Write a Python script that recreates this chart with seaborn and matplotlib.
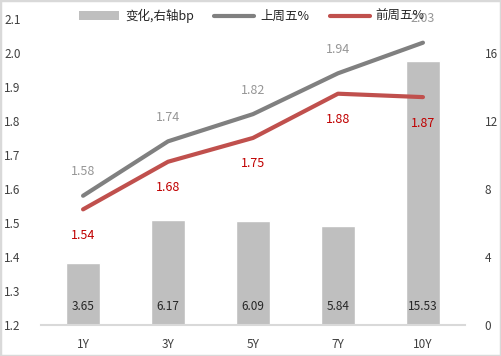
import numpy as np
import pandas as pd
import matplotlib
matplotlib.use("Agg")
import matplotlib.pyplot as plt
from matplotlib.patches import Patch, Rectangle
from matplotlib.lines import Line2D
import seaborn as sns

# dados
tenors = ["1Y", "3Y", "5Y", "7Y", "10Y"]
change_bp = [3.65, 6.17, 6.09, 5.84, 15.53]
last_fri = [1.58, 1.74, 1.82, 1.94, 2.03]
prev_fri = [1.54, 1.68, 1.75, 1.88, 1.87]
left_ticks = [1.2, 1.3, 1.4, 1.5, 1.6, 1.7, 1.8, 1.9, 2.0, 2.1]
right_ticks = [0, 4, 8, 12, 16]

sns.set_theme(style="white")
plt.rcParams["font.family"] = ["Noto Sans CJK SC", "DejaVu Sans"]

c_bar = "#bfbfbf"
c_grey = "#808080"
c_red = "#c0504d"
c_tick = "#404040"

df = pd.DataFrame({
    "pos": np.arange(len(tenors)),
    "tenor": tenors,
    "change": change_bp,
    "last": last_fri,
    "prev": prev_fri,
})

fig = plt.figure(figsize=(5.01, 3.56), dpi=100)
ax = fig.add_axes([0.081, 0.087, 0.848, 0.860])
ax_r = ax.twinx()

# barras no eixo direito
sns.barplot(data=df, x="pos", y="change", ax=ax_r, color=c_bar, width=0.4,
            saturation=1)
ax_r.set_ylim(0, 18)
ax_r.set_yticks(right_ticks)
ax_r.set_ylabel("")
for i, v in enumerate(change_bp):
    ax_r.annotate(f"{v:.2f}", xy=(i, 0), xytext=(0, 19), textcoords="offset pixels",
                  ha="center", va="center", fontsize=8.5, color="#262626")

# linhas no eixo esquerdo
ax.set_zorder(ax_r.get_zorder() + 1)
ax.patch.set_visible(False)
sns.lineplot(data=df, x="pos", y="last", ax=ax, color=c_grey, linewidth=3,
             solid_capstyle="round")
sns.lineplot(data=df, x="pos", y="prev", ax=ax, color=c_red, linewidth=3,
             solid_capstyle="round")
for i, v in enumerate(last_fri):
    ax.annotate(f"{v:.2f}", xy=(i, v), xytext=(0, 24), textcoords="offset pixels",
                ha="center", va="center", fontsize=9, color="#969696")
for i, v in enumerate(prev_fri):
    ax.annotate(f"{v:.2f}", xy=(i, v), xytext=(0, -26), textcoords="offset pixels",
                ha="center", va="center", fontsize=9, color="#c00000")

ax.set_ylim(1.2, 2.1)
ax.set_yticks(left_ticks)
ax.set_yticklabels([f"{t:.1f}" for t in left_ticks])
ax.set_xlim(-0.5, len(tenors) - 0.5)
ax.set_xticks(df["pos"])
ax.set_xticklabels(tenors)
ax.set_xlabel("")
ax.set_ylabel("")

for a in (ax, ax_r):
    for s in a.spines.values():
        s.set_visible(False)
    a.tick_params(length=0, labelsize=8.5, colors=c_tick)
ax.spines["bottom"].set_visible(True)
ax.spines["bottom"].set_color("#d9d9d9")
ax.spines["bottom"].set_linewidth(1.5)
ax.tick_params(axis="y", pad=14)
ax.tick_params(axis="x", pad=9)
ax_r.tick_params(axis="y", pad=14)
for lbl in ax.get_yticklabels():
    lbl.set_horizontalalignment("left")
    lbl.set_x(-0.086)
ax.tick_params(axis="y", pad=0)

# legenda
handles = [
    Patch(facecolor=c_bar, edgecolor="none"),
    Line2D([], [], color=c_grey, linewidth=3, solid_capstyle="round"),
    Line2D([], [], color=c_red, linewidth=3, solid_capstyle="round"),
]
labels = ["变化,右轴bp", "上周五%", "前周五%"]
fig.legend(handles, labels, loc="center", bbox_to_anchor=(0.503, 0.955), ncol=3,
           frameon=False, fontsize=9, handlelength=3.2, handletextpad=0.5,
           columnspacing=1.6, labelcolor="#262626")

fig.patches.append(Rectangle((0, 0), 1, 1, transform=fig.transFigure, fill=False,
                             edgecolor="#d9d9d9", linewidth=2.5))

fig.savefig("out.png", dpi=100)
plt.close(fig)
